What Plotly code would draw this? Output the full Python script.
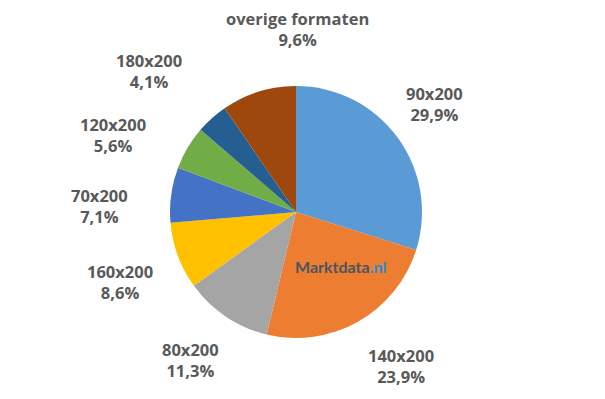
import plotly.graph_objects as go

labels = ["90x200", "140x200", "80x200", "160x200", "70x200", "120x200", "180x200", "overige formaten"]
values = [29.9, 23.9, 11.3, 8.6, 7.1, 5.6, 4.1, 9.6]
pct_text = ["29,9%", "23,9%", "11,3%", "8,6%", "7,1%", "5,6%", "4,1%", "9,6%"]
colors = ["#5B9BD5", "#ED7D31", "#A5A5A5", "#FFC000", "#4472C4", "#70AD47", "#255E91", "#9E480E"]

# label anchor positions (pixels of the 605x399 window)
label_px = [(434, 104), (401, 366), (190, 360), (120, 282), (100, 206), (113, 135), (149, 71), (297, 29)]

W, H = 605, 399
OFF = 8  # page body margin in the browser
cx, cy, r = 296 - OFF, 212 - OFF, 126

fig = go.Figure(go.Pie(
    labels=labels, values=values, sort=False, direction="clockwise", rotation=0,
    marker=dict(colors=colors, line=dict(color="white", width=0)),
    textinfo="none", hoverinfo="label+percent", showlegend=False,
    domain=dict(x=[(cx - r) / W, (cx + r) / W], y=[(H - cy - r) / H, (H - cy + r) / H]),
))

for lab, pt, (px, py) in zip(labels, pct_text, label_px):
    fig.add_annotation(
        x=(px - OFF) / W, y=1 - (py - OFF) / H, xref="paper", yref="paper",
        text=f"{lab}<br>{pt}", showarrow=False, align="center",
        xanchor="center", yanchor="middle",
        font=dict(family="Open Sans", size=16.5, color="#595959", weight="bold"),
    )

fig.add_annotation(
    x=(340 - OFF) / W, y=1 - (266 - OFF) / H, xref="paper", yref="paper", showarrow=False,
    text="<span style='color:#4a5560'>Marktdata</span><span style='color:#2E8BD8'>.nl</span>",
    font=dict(family="Lato", size=16, color="#4a5560", weight="bold"),
    xanchor="center", yanchor="middle",
)

fig.update_layout(
    width=W, height=H, margin=dict(l=0, r=0, t=0, b=0),
    paper_bgcolor="white", plot_bgcolor="white",
)
fig.write_html("out.html")
